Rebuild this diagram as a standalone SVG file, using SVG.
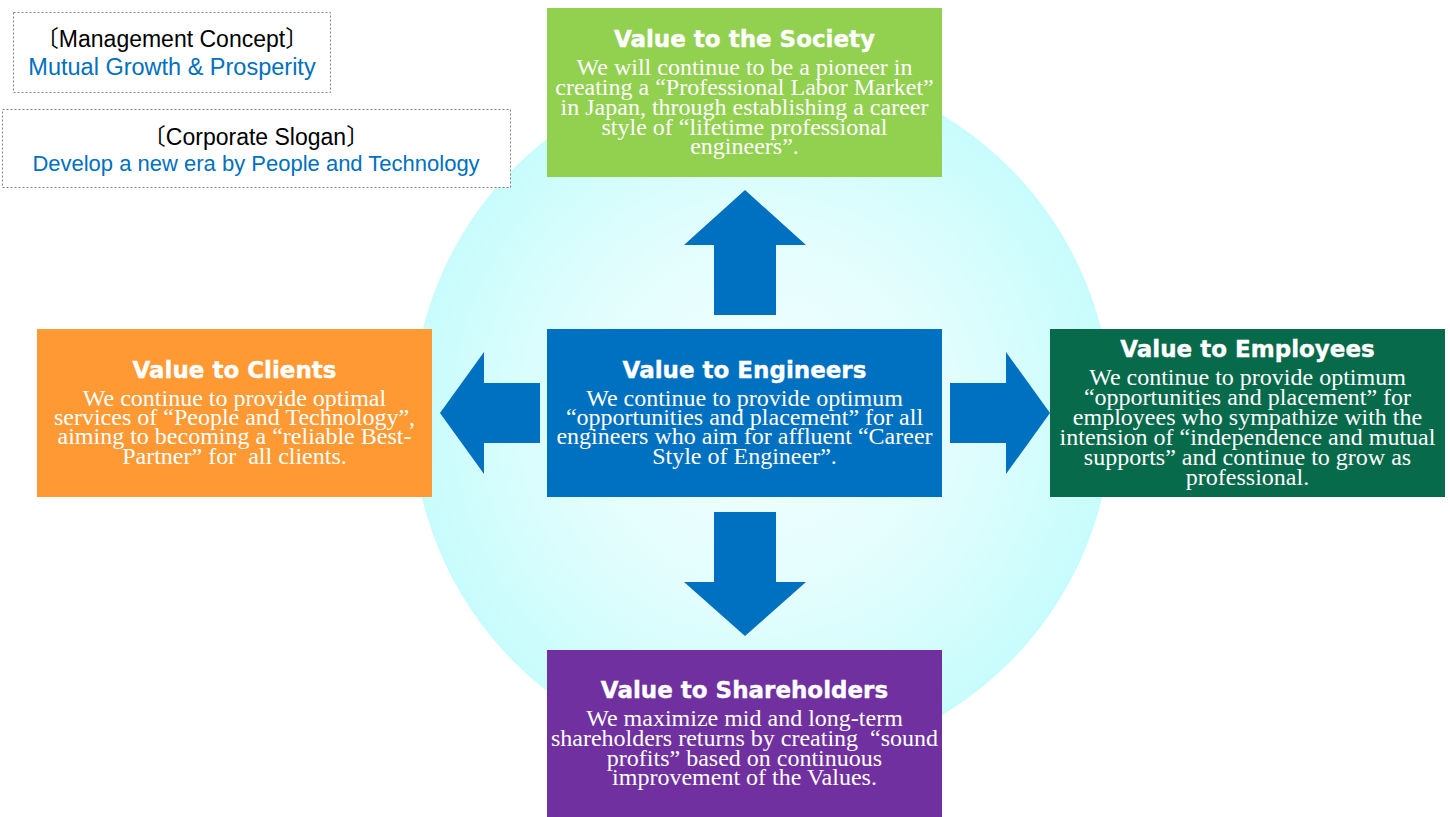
<svg xmlns="http://www.w3.org/2000/svg" width="1450" height="817" viewBox="0 0 1450 817">
<defs>
<radialGradient id="bg" cx="0.5" cy="0.5" r="0.5">
<stop offset="0" stop-color="#f4ffff"/>
<stop offset="0.55" stop-color="#e2fdfd"/>
<stop offset="1" stop-color="#c8fcfc"/>
</radialGradient>
<style>
.title{font-family:"DejaVu Sans",sans-serif;font-weight:bold;font-size:23px;fill:#fff;stroke:#fff;stroke-width:0.4;text-anchor:middle}
.body{font-family:"Liberation Serif","Times New Roman",serif;font-size:24px;fill:#fff;text-anchor:middle}
.dash{fill:#fff;stroke:#808080;stroke-width:1;stroke-dasharray:2,2}
.hd{font-family:"Liberation Sans",Arial,"Noto Sans CJK JP",sans-serif;font-size:23px;fill:#000;text-anchor:middle}
.bl{font-family:"Liberation Sans",Arial,sans-serif;font-size:22px;fill:#0070c0;text-anchor:middle}
.arrow{fill:#0070c0}
</style>
</defs>
<rect width="1450" height="817" fill="#fff"/>
<circle id="circle" cx="762" cy="415" r="350" fill="url(#bg)"/>

<g id="concept">
<rect class="dash" x="13.5" y="12.5" width="317" height="80"/>
<text class="hd" x="172" y="47">〔Management Concept〕</text>
<text class="bl" x="172" y="75" style="font-size:23.5px">Mutual Growth &amp; Prosperity</text>
</g>
<g id="slogan">
<rect class="dash" x="2.5" y="109.5" width="508" height="78"/>
<text class="hd" x="256" y="145">〔Corporate Slogan〕</text>
<text class="bl" x="256" y="171">Develop a new era by People and Technology</text>
</g>

<g id="connectors">
<polygon class="arrow" points="714,315 714,245 684,245 745,190 806,245 776,245 776,315"/>
<polygon class="arrow" points="714,512 714,582 684,582 745,636 806,582 776,582 776,512"/>
<polygon class="arrow" points="540,383 484,383 484,352 440,413 484,474 484,443 540,443"/>
<polygon class="arrow" points="950,383 1006,383 1006,352 1050,413 1006,474 1006,443 950,443"/>
</g>

<g id="society">
<rect x="547" y="8" width="395" height="169" fill="#92d050"/>
<text class="title" x="744.5" y="47">Value to the Society</text>
<text class="body" x="744.5" y="75">We will continue to be a pioneer in<tspan x="744.5" dy="20">creating a “Professional Labor Market”</tspan><tspan x="744.5" dy="20">in Japan, through establishing a career</tspan><tspan x="744.5" dy="20">style of “lifetime professional</tspan><tspan x="744.5" dy="19">engineers”.</tspan></text>
</g>

<g id="clients">
<rect x="37" y="329" width="395" height="168" fill="#ff9933"/>
<text class="title" x="234.5" y="378">Value to Clients</text>
<text class="body" x="234.5" y="406">We continue to provide optimal<tspan x="234.5" dy="19">services of “People and Technology”,</tspan><tspan x="234.5" dy="19">aiming to becoming a “reliable Best-</tspan><tspan x="234.5" dy="20">Partner” for&#160; all clients.</tspan></text>
</g>

<g id="engineers">
<rect x="547" y="329" width="395" height="168" fill="#0070c0"/>
<text class="title" x="744.5" y="378">Value to Engineers</text>
<text class="body" x="744.5" y="406">We continue to provide optimum<tspan x="744.5" dy="19">“opportunities and placement” for all</tspan><tspan x="744.5" dy="19">engineers who aim for affluent “Career</tspan><tspan x="744.5" dy="20">Style of Engineer”.</tspan></text>
</g>

<g id="employees">
<rect x="1050" y="329" width="395" height="168" fill="#076a4b"/>
<text class="title" x="1247.5" y="357">Value to Employees</text>
<text class="body" x="1247.5" y="385">We continue to provide optimum<tspan x="1247.5" dy="20">“opportunities and placement” for</tspan><tspan x="1247.5" dy="20">employees who sympathize with the</tspan><tspan x="1247.5" dy="20">intension of “independence and mutual</tspan><tspan x="1247.5" dy="20">supports” and continue to grow as</tspan><tspan x="1247.5" dy="20">professional.</tspan></text>
</g>

<g id="shareholders">
<rect x="547" y="650" width="395" height="167" fill="#7030a0"/>
<text class="title" x="744.5" y="698">Value to Shareholders</text>
<text class="body" x="744.5" y="726">We maximize mid and long-term<tspan x="744.5" dy="20">shareholders returns by creating&#160; “sound</tspan><tspan x="744.5" dy="20">profits” based on continuous</tspan><tspan x="744.5" dy="19">improvement of the Values.</tspan></text>
</g>
</svg>
